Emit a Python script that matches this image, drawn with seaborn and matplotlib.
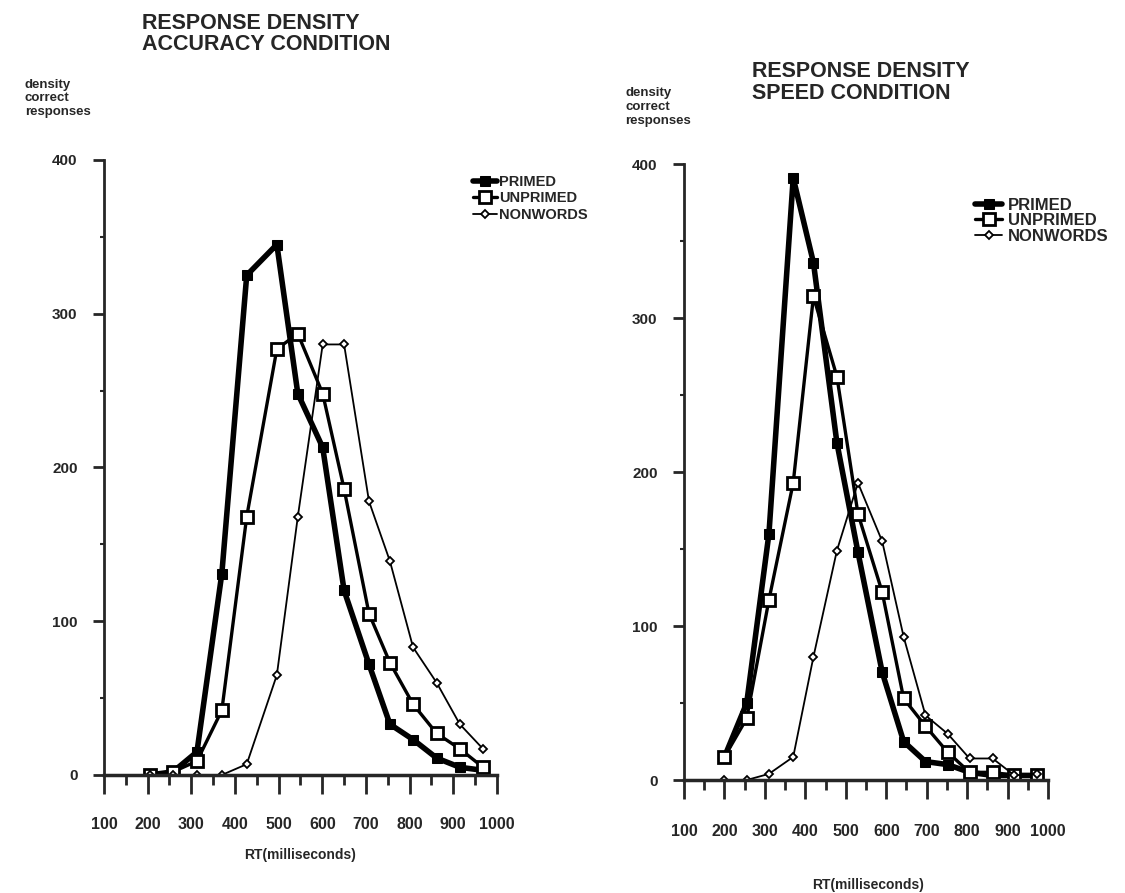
import matplotlib
matplotlib.use('Agg')
import matplotlib.pyplot as plt
import seaborn as sns
from matplotlib.ticker import MultipleLocator

# data (RT in ms, density of correct responses)
acc_rt = [205, 258, 313, 370, 427, 496, 544, 601, 650, 707, 755, 808, 862, 915, 968]
acc_primed = [0, 2, 15, 131, 325, 345, 248, 213, 120, 72, 33, 23, 11, 5, 3]
acc_unprimed = [0, 2, 9, 42, 168, 277, 287, 248, 186, 105, 73, 46, 27, 17, 5]
acc_nonwords = [0, 0, 0, 0, 7, 65, 168, 280, 280, 178, 139, 83, 60, 33, 17]

spd_rt = [200, 255, 310, 370, 420, 478, 530, 590, 643, 697, 752, 806, 863, 917, 972]
spd_primed = [15, 50, 160, 391, 336, 219, 148, 70, 25, 12, 10, 5, 3, 3, 3]
spd_unprimed = [15, 40, 117, 193, 314, 262, 173, 122, 53, 35, 18, 5, 5, 3, 3]
spd_nonwords = [0, 0, 4, 15, 80, 149, 193, 155, 93, 42, 30, 14, 14, 3, 4]

series_names = ['PRIMED', 'UNPRIMED', 'NONWORDS']
x_ticks = [100, 200, 300, 400, 500, 600, 700, 800, 900, 1000]
y_ticks = [0, 100, 200, 300, 400]

sns.set_style('ticks')
plt.rcParams['font.family'] = ['Liberation Sans', 'DejaVu Sans']
plt.rcParams['font.weight'] = 'bold'

styles = {
    'PRIMED': dict(lw=4.0, marker='s', markersize=7, markerfacecolor='black', markeredgecolor='black'),
    'UNPRIMED': dict(lw=2.4, marker='s', markersize=8, markerfacecolor='white', markeredgecolor='black', markeredgewidth=2),
    'NONWORDS': dict(lw=1.3, marker='D', markersize=4.5, markerfacecolor='white', markeredgecolor='black', markeredgewidth=1.3),
}

fig = plt.figure(figsize=(11.25, 8.93), dpi=100)
ax1 = fig.add_axes([0.0924, 0.1322, 0.3493, 0.6887])
ax2 = fig.add_axes([0.608, 0.1265, 0.3236, 0.6898])


def draw_panel(ax, rt, values, legend_anchor, xpad, leg_size, leg_space, leg_handle, leg_pad):
    for name, vals in zip(series_names, values):
        sns.lineplot(x=rt, y=vals, ax=ax, color='black', label=name, **styles[name])
    ax.set_xlim(100, 1000)
    ax.set_ylim(0, 400)
    ax.set_xticks(x_ticks)
    ax.set_yticks(y_ticks)
    ax.xaxis.set_minor_locator(MultipleLocator(50))
    ax.yaxis.set_minor_locator(MultipleLocator(50))
    ax.tick_params(axis='x', which='major', direction='out', length=14, width=2, pad=xpad, labelsize=11.5)
    ax.tick_params(axis='x', which='minor', direction='out', length=7, width=2)
    ax.tick_params(axis='y', which='major', direction='out', length=8, width=2, pad=11, labelsize=11)
    ax.tick_params(axis='y', which='minor', direction='out', length=3, width=1.5)
    for lab in ax.get_xticklabels() + ax.get_yticklabels():
        lab.set_fontweight('bold')
    sns.despine(ax=ax)
    ax.spines['left'].set_linewidth(2)
    ax.spines['bottom'].set_linewidth(2.5)
    ax.set_xlabel('')
    ax.set_ylabel('')
    ax.legend(loc='upper left', bbox_to_anchor=legend_anchor, frameon=False,
              prop=dict(weight='bold', size=leg_size), handlelength=leg_handle, handletextpad=leg_pad,
              labelspacing=leg_space, borderaxespad=0, borderpad=0)


draw_panel(ax1, acc_rt, [acc_primed, acc_unprimed, acc_nonwords], (0.94, 0.975), 16, 10.5, 0.15, 1.6, 0.15)
draw_panel(ax2, spd_rt, [spd_primed, spd_unprimed, spd_nonwords], (0.80, 0.945), 18, 12, 0.02, 1.6, 0.35)

fig.text(0.126, 0.986, 'RESPONSE DENSITY\nACCURACY CONDITION', ha='left', va='top',
         fontsize=15.5, fontweight='bold', linespacing=1.05)
fig.text(0.668, 0.932, 'RESPONSE DENSITY\nSPEED CONDITION', ha='left', va='top',
         fontsize=15.5, fontweight='bold', linespacing=1.05)

fig.text(0.022, 0.912, 'density\ncorrect\nresponses', ha='left', va='top',
         fontsize=9.5, fontweight='bold', linespacing=1.2)
fig.text(0.556, 0.903, 'density\ncorrect\nresponses', ha='left', va='top',
         fontsize=9.5, fontweight='bold', linespacing=1.25)

fig.text(0.2667, 0.0425, 'RT(milliseconds)', ha='center', va='center', fontsize=10, fontweight='bold')
fig.text(0.7716, 0.009, 'RT(milliseconds)', ha='center', va='center', fontsize=10, fontweight='bold')

fig.savefig('out.png', dpi=100, facecolor='white')
